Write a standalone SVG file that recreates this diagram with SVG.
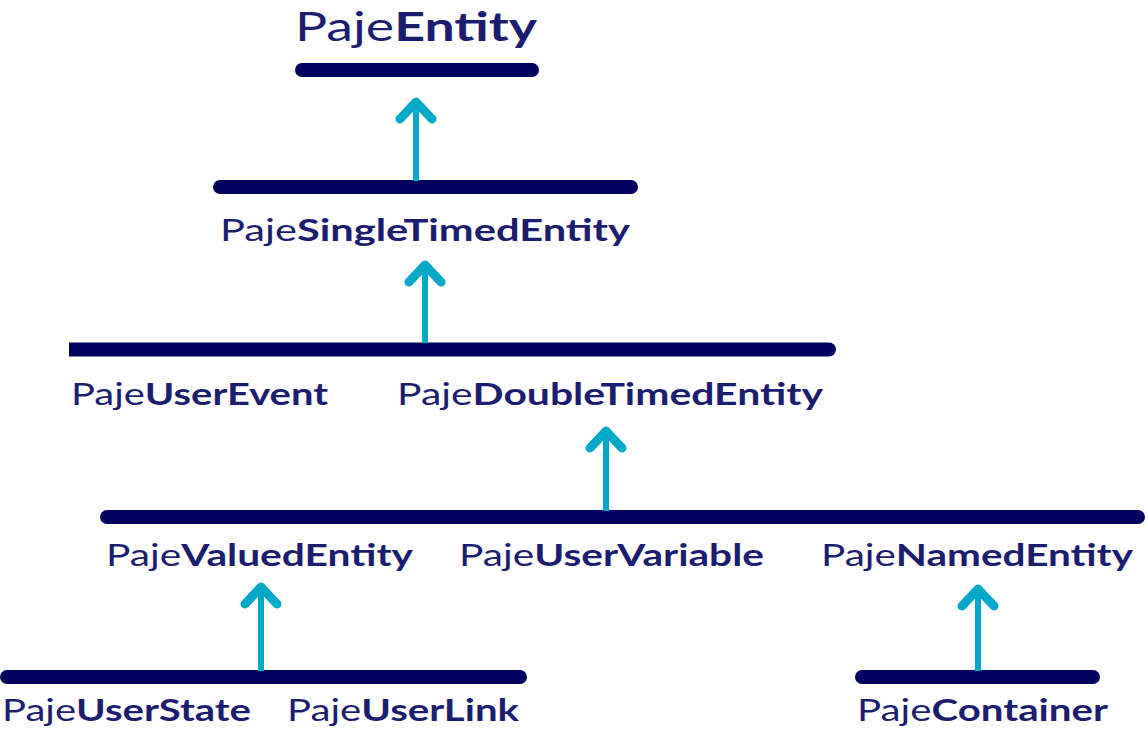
<svg xmlns="http://www.w3.org/2000/svg" width="1146" height="729" viewBox="0 0 1146 729">
<style>
  .lbl { font-family: "Lato", "Liberation Sans", sans-serif; font-size: 31px; fill: #1d1d6f; }
  .top { font-size: 41px; }
  .b { font-weight: 700; }
  .bar { fill: #00005f; }
  .bar-line { stroke: #00005f; stroke-width: 14; stroke-linecap: round; fill: none; }
  .shaft { stroke: #00a9c8; stroke-width: 6; fill: none; }
  .head { stroke: #00a9c8; stroke-width: 9; stroke-linecap: round; stroke-linejoin: round; fill: none; }
</style>
<rect width="1146" height="729" fill="#ffffff"/>
<g id="connectors">
  <line class="bar-line" x1="302" y1="70" x2="532" y2="70"/>
  <line class="bar-line" x1="220" y1="187" x2="631" y2="187"/>
  <path class="bar" d="M69,342.5 H829 A7,7 0 0 1 829,356.5 H69 Z"/>
  <line class="bar-line" x1="107" y1="517" x2="1138" y2="517"/>
  <line class="bar-line" x1="7" y1="677" x2="520" y2="677"/>
  <line class="bar-line" x1="862" y1="677" x2="1093" y2="677"/>

  <line class="shaft" x1="416" y1="181" x2="416" y2="104"/>
  <path class="head" d="M400,119 L416,102 L432,119"/>

  <line class="shaft" x1="425" y1="343" x2="425" y2="267"/>
  <path class="head" d="M409,282 L425,265 L441,282"/>

  <line class="shaft" x1="606" y1="511" x2="606" y2="433"/>
  <path class="head" d="M590,448 L606,431 L622,448"/>

  <line class="shaft" x1="261" y1="671" x2="261" y2="589"/>
  <path class="head" d="M245,604 L261,587 L277,604"/>

  <line class="shaft" x1="978" y1="671" x2="978" y2="591"/>
  <path class="head" d="M962,606 L978,589 L994,606"/>
</g>
<g id="PajeEntity"><text class="lbl top" x="295" y="41" textLength="242" lengthAdjust="spacingAndGlyphs">Paje<tspan class="b">Entity</tspan></text></g>
<g id="PajeSingleTimedEntity"><text class="lbl" x="220" y="241" textLength="410" lengthAdjust="spacingAndGlyphs">Paje<tspan class="b">SingleTimedEntity</tspan></text></g>
<g id="PajeUserEvent"><text class="lbl" x="71" y="405" textLength="257" lengthAdjust="spacingAndGlyphs">Paje<tspan class="b">UserEvent</tspan></text></g>
<g id="PajeDoubleTimedEntity"><text class="lbl" x="397" y="405" textLength="426" lengthAdjust="spacingAndGlyphs">Paje<tspan class="b">DoubleTimedEntity</tspan></text></g>
<g id="PajeValuedEntity"><text class="lbl" x="106" y="566" textLength="307" lengthAdjust="spacingAndGlyphs">Paje<tspan class="b">ValuedEntity</tspan></text></g>
<g id="PajeUserVariable"><text class="lbl" x="459" y="566" textLength="305" lengthAdjust="spacingAndGlyphs">Paje<tspan class="b">UserVariable</tspan></text></g>
<g id="PajeNamedEntity"><text class="lbl" x="821" y="566" textLength="312" lengthAdjust="spacingAndGlyphs">Paje<tspan class="b">NamedEntity</tspan></text></g>
<g id="PajeUserState"><text class="lbl" x="2" y="721" textLength="249" lengthAdjust="spacingAndGlyphs">Paje<tspan class="b">UserState</tspan></text></g>
<g id="PajeUserLink"><text class="lbl" x="287" y="721" textLength="232" lengthAdjust="spacingAndGlyphs">Paje<tspan class="b">UserLink</tspan></text></g>
<g id="PajeContainer"><text class="lbl" x="857" y="721" textLength="251" lengthAdjust="spacingAndGlyphs">Paje<tspan class="b">Container</tspan></text></g>
</svg>
